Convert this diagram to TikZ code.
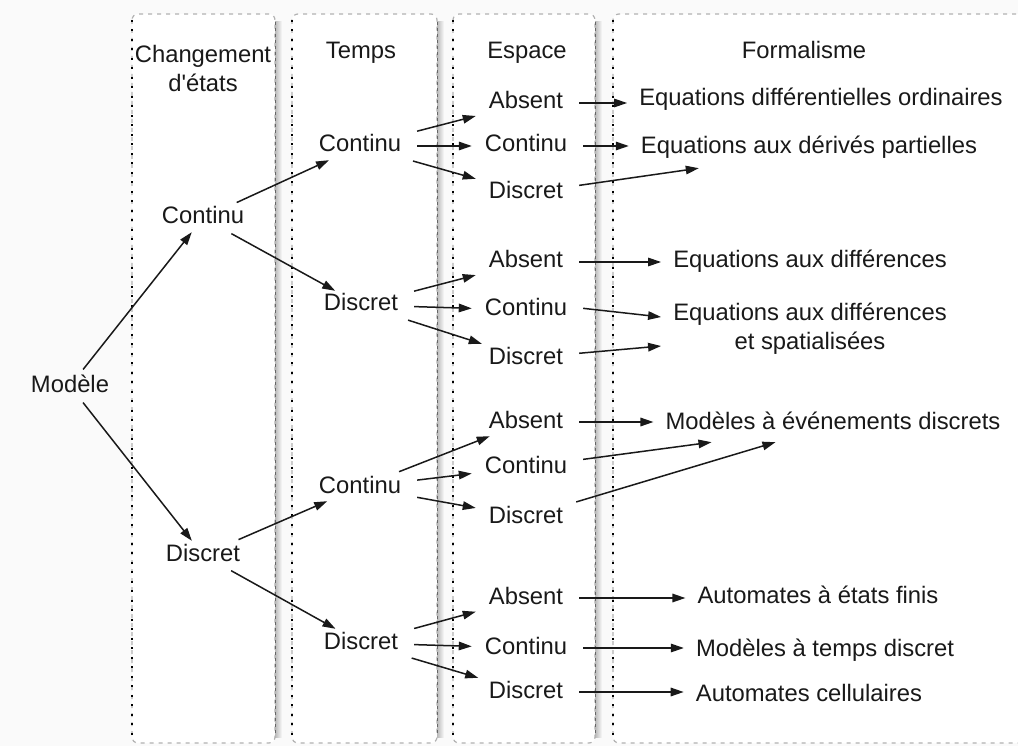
\documentclass[tikz,border=0pt]{standalone}
\usepackage{fontspec}
\setmainfont[Ligatures = TeXOff]{Liberation Sans}
\usetikzlibrary{arrows.meta}

\begin{document}
\begin{tikzpicture}[x = 1pt, y = -1pt,
	txt/.style = {font = \fontsize{23.8}{29}\selectfont, text = black!90, inner ysep = 3pt},
	choice/.style = {txt, inner xsep = 13pt, text height = 17pt, text depth = 5pt},
	formal/.style = {txt, inner xsep = 12pt, text height = 17pt, text depth = 5pt},
	arr/.style = {-{Triangle[length = 13pt, width = 8.5pt]}, line width = 1.5pt, black!90, shorten < = 3pt}]
	\useasboundingbox (0,0) rectangle (1018,746);
	\clip (0,0) rectangle (1018,746);
	\fill[gray!4] (0,0) rectangle (1018,746);
	\foreach \l/\r in {132/275, 292/437, 453/595, 613/1060} {
		\fill[white, rounded corners = 6pt] (\l,14) rectangle (\r,743);
		\fill[left color = gray!55, right color = gray!4] (\r,22) rectangle (\r+7,737);
		\draw[gray!60, line width = 1.2pt, dash pattern = on 4pt off 5pt, rounded corners = 6pt] (\l,14) rectangle (\r,743);
		\draw[gray!80!black, line width = 1pt, dash pattern = on 3pt off 3pt] (\r,22) -- (\r,735);
		\draw[black, line width = 2pt, dash pattern = on 2pt off 7.5pt] (\l,20) -- (\l,738);
	}

	\node[txt, align = center] (chg) at (203,68) {Changement\\d'états};
	\node[choice] (tps) at (361,53) {Temps};
	\node[choice] (esp) at (527,53) {Espace};
	\node[choice] (frm) at (804,53) {Formalisme};

	\node[choice] (mod) at (70,386) {Modèle};
	\node[choice] (ec) at (203,218) {Continu};
	\node[choice] (ed) at (203,555) {Discret};

	\node[choice] (cc) at (360,146) {Continu};
	\node[choice] (cd) at (361,305) {Discret};
	\node[choice] (dc) at (360,487) {Continu};
	\node[choice] (dd) at (361,643) {Discret};

	\node[choice] (a1) at (526,103) {Absent};
	\node[choice] (c1) at (526,146) {Continu};
	\node[choice] (d1) at (526,193) {Discret};
	\node[choice] (a2) at (526,262) {Absent};
	\node[choice] (c2) at (526,310) {Continu};
	\node[choice] (d2) at (526,358) {Discret};
	\node[choice] (a3) at (526,422) {Absent};
	\node[choice] (c3) at (526,467) {Continu};
	\node[choice] (d3) at (526,517) {Discret};
	\node[choice] (a4) at (526,598) {Absent};
	\node[choice] (c4) at (526,648) {Continu};
	\node[choice] (d4) at (526,692) {Discret};

	\node[formal] (edo) at (821,100) {Equations différentielles ordinaires};
	\node[formal] (edp) at (809,148) {Equations aux dérivés partielles};
	\node[formal] (eda) at (810,262) {Equations aux différences};
	\node[txt, inner xsep = 12pt, align = center] (eds) at (810,329) {Equations aux différences\\et spatialisées};
	\node[formal] (mee) at (833,423) {Modèles à événements discrets};
	\node[formal] (aef) at (818,597) {Automates à états finis};
	\node[formal] (mtd) at (825,650) {Modèles à temps discret};
	\node[formal] (acl) at (809,695) {Automates cellulaires};

	\draw[arr] (mod) -- (ec);
	\draw[arr] (mod) -- (ed);
	\draw[arr] (ec) -- (cc);
	\draw[arr] (ec) -- (cd);
	\draw[arr] (ed) -- (dc);
	\draw[arr] (ed) -- (dd);
	\draw[arr] (cc) -- (a1);
	\draw[arr] (cc) -- (c1);
	\draw[arr] (cc) -- (d1);
	\draw[arr] (cd) -- (a2);
	\draw[arr] (cd) -- (c2);
	\draw[arr] (cd) -- (d2);
	\draw[arr] (dc) -- (a3);
	\draw[arr] (dc) -- (c3);
	\draw[arr] (dc) -- (d3);
	\draw[arr] (dd) -- (a4);
	\draw[arr] (dd) -- (c4);
	\draw[arr] (dd) -- (d4);

	\draw[arr] (a1) -- (a1 -| edo.west);
	\draw[arr] (c1) -- (c1 -| edp.west);
	\draw[arr] (d1) -- ([xshift = 70pt, yshift = -6pt]edp.south west);
	\draw[arr] (a2) -- (a2 -| eda.west);
	\draw[arr] ([yshift = 2pt]c2.east) -- ([yshift = 12pt]eds.west);
	\draw[arr] (d2) -- ([yshift = -17pt]eds.west);
	\draw[arr] (a3) -- (a3 -| mee.west);
	\draw[arr] (c3) -- ([xshift = 58pt, yshift = -5pt]mee.south west);
	\draw[arr] (d3) -- ([xshift = 122pt, yshift = -5pt]mee.south west);
	\draw[arr] (a4) -- (a4 -| aef.west);
	\draw[arr] (c4) -- (c4 -| mtd.west);
	\draw[arr] (d4) -- (d4 -| acl.west);
\end{tikzpicture}
\end{document}
